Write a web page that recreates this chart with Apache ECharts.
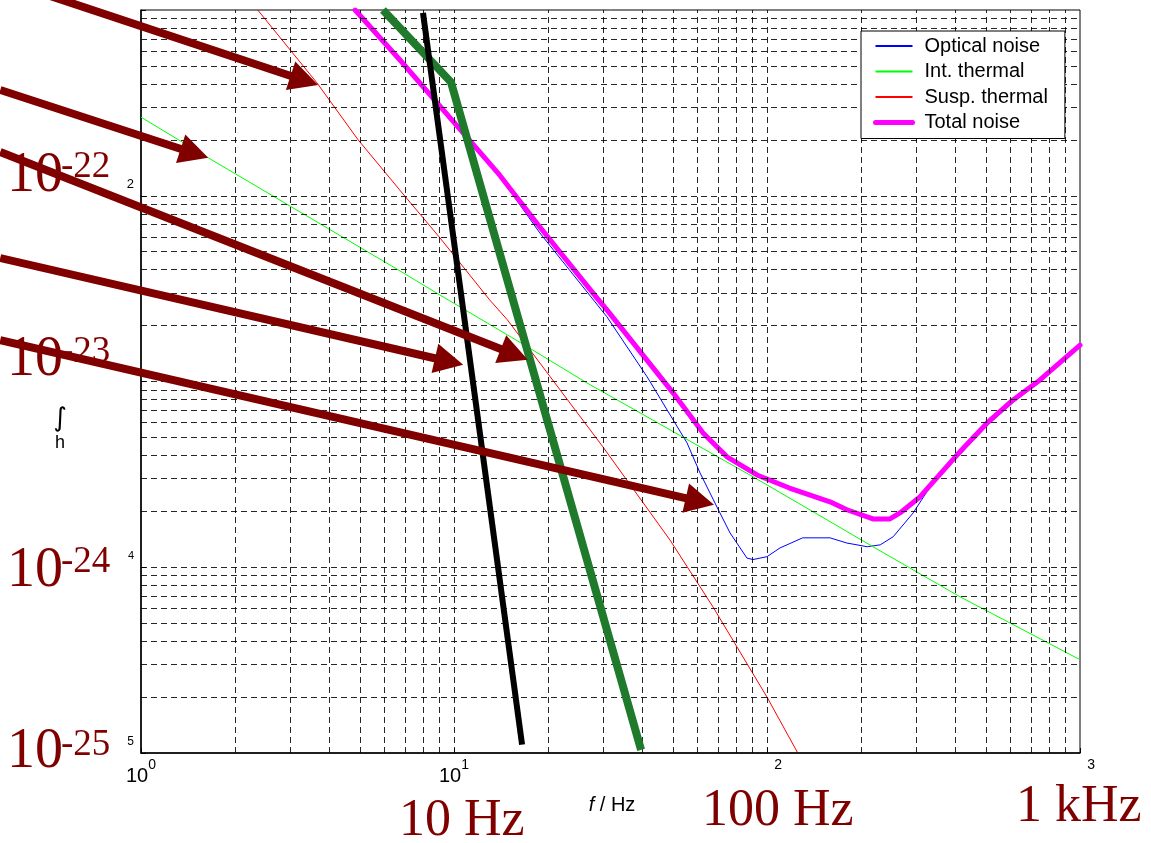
<!DOCTYPE html>
<html>
<head>
<meta charset="utf-8">
<title>Noise budget</title>
<script src="https://cdn.jsdelivr.net/npm/echarts@6/dist/echarts.min.js"></script>
<style>
  html, body { margin: 0; padding: 0; background: #fff; }
  #chart { width: 1151px; height: 843px; }
</style>
</head>
<body>
<div id="chart"></div>
<script>
// values (f in Hz, h in 1/sqrt(Hz))
const optFreq  = [4.83, 6.72, 14.0, 18.8, 30.8, 41.4, 55.5, 61.1, 69.2, 76.2, 86.3, 90.2, 100, 110, 130, 159, 180, 209, 230, 253, 293, 332, 405, 505, 611, 745, 1000]
const optNoise = [1.0e-21, 5.3e-22, 1.27e-22, 6.31e-23, 2.23e-23, 1.06e-23, 4.68e-24, 3.22e-24, 2.11e-24, 1.53e-24, 1.12e-24, 1.10e-24, 1.14e-24, 1.27e-24, 1.44e-24, 1.44e-24, 1.35e-24, 1.29e-24, 1.32e-24, 1.46e-24, 1.96e-24, 2.71e-24, 3.9e-24, 5.8e-24, 7.7e-24, 1.0e-23, 1.53e-23]

const intFreq  = [1, 1.64, 6.72, 9.02, 16.3, 26.6, 39.3, 61.1, 90.2, 155.5, 218, 414, 1000]
const intNoise = [2.65e-22, 1.60e-22, 3.94e-23, 2.92e-23, 1.62e-23, 9.82e-24, 6.78e-24, 4.45e-24, 3.07e-24, 1.80e-24, 1.29e-24, 6.93e-25, 3.18e-25]

const suspFreq  = [2.36, 3.65, 4.94, 6.72, 9.02, 13.0, 14.8, 20.3, 29.9, 49.0, 67.2, 100, 125]
const suspNoise = [1.0e-21, 4.05e-22, 2.0e-22, 1.07e-22, 5.93e-23, 2.75e-23, 2.15e-23, 1.06e-23, 4.45e-24, 1.40e-24, 6.12e-25, 2.0e-25, 1.01e-25]

const totFreq  = [4.83, 6.72, 14.0, 18.8, 28.6, 30.8, 50.1, 62.5, 74.5, 92.9, 118, 159, 180, 218, 247, 266, 308, 405, 505, 611, 745, 1000]
const totNoise = [1.0e-21, 5.38e-22, 1.29e-22, 6.79e-23, 2.82e-23, 2.43e-23, 8.69e-24, 5.28e-24, 3.93e-24, 3.14e-24, 2.67e-24, 2.25e-24, 2.04e-24, 1.82e-24, 1.82e-24, 1.96e-24, 2.39e-24, 4.03e-24, 5.98e-24, 7.96e-24, 1.02e-23, 1.57e-23]

// the two overlaid "walls"
const blackWallFreq  = [7.96, 16.5]
const blackWallNoise = [9.64e-22, 1.11e-25]
const greenWallFreq  = [5.93, 9.78, 39.6]
const greenWallNoise = [1.0e-21, 4.09e-22, 1.04e-25]

// annotation arrows, [f, h] of tail and tip
const arrowFrom = [[0.42, 1.33e-21], [0.355, 3.71e-22], [0.355, 1.72e-22], [0.355, 4.62e-23], [0.355, 1.67e-23]]
const arrowTo   = [[3.68, 3.95e-22], [1.64, 1.60e-22], [17.2, 1.31e-23], [10.7, 1.23e-23], [67.7, 2.17e-24]]

// tick labels (as exported, partly garbled)
const xTickText = { 1: '{b|10}{s|0}', 10: '{b|10}{s|1}', 100: '{h|10}{s|2}', 1000: '{h|10}{s|3}' }
const yTickText = { 21: '', 22: '{r22|2}', 23: '{r23|3}', 24: '{r24|4}', 25: '{r25|5}' }

// overlaid slide labels
const yBigLabels = ['-22', '-23', '-24', '-25']
const fBigLabels = ['10 Hz', '100 Hz', '1 kHz']

const gridMult = [1, 2, 3, 4, 5, 6, 7, 8, 9]
const xDecades = [1, 10, 100]
const yDecades = [1e-25, 1e-24, 1e-23, 1e-22]

// echarts rounds tiny numbers to 0 on a log axis, so h is plotted in units of 1e-25
const hUnit = 1e-25

const sans = '"Liberation Sans", Arial, sans-serif'
const serif = '"Liberation Serif", "Times New Roman", serif'
const maroon = '#800000'

function pt(f, h) {
  return [f, h / hUnit]
}
function pairs(xs, ys) {
  return xs.map((x, i) => pt(x, ys[i]))
}

const gridLines = []
xDecades.forEach(d => gridMult.forEach(m => {
  if (m > 1 || d > 1) gridLines.push({ xAxis: d * m })
}))
yDecades.forEach(d => gridMult.forEach(m => {
  if (m > 1 || d > 1e-25) gridLines.push({ yAxis: Math.round(d / hUnit) * m })
}))

const chart = echarts.init(document.getElementById('chart'))

const thin = (name, color, xs, ys) => ({
  name: name,
  type: 'line',
  data: pairs(xs, ys),
  showSymbol: false,
  symbol: 'none',
  z: 3,
  lineStyle: { color: color, width: 1 },
  itemStyle: { color: color }
})

chart.setOption({
  animation: false,
  backgroundColor: '#fff',
  grid: {
    left: 141, right: 71, top: 10, bottom: 90,
    show: true, borderColor: '#000', borderWidth: 1, backgroundColor: 'transparent'
  },
  legend: {
    data: [
      { name: 'Optical noise' },
      { name: 'Int. thermal' },
      { name: 'Susp. thermal' },
      { name: 'Total noise', lineStyle: { width: 5 } }
    ],
    orient: 'vertical',
    left: 861,
    top: 31,
    z: 50,
    padding: [5, 17, 6, 12],
    itemGap: 5.5,
    itemWidth: 37,
    itemHeight: 14,
    backgroundColor: '#fff',
    borderColor: '#000',
    borderWidth: 1,
    selectedMode: false,
    itemStyle: { opacity: 0 },
    textStyle: { fontFamily: sans, fontSize: 20, color: '#000', padding: [0, 0, 0, 7] }
  },
  xAxis: {
    type: 'log',
    logBase: 10,
    min: 1,
    max: 1000,
    splitNumber: 3,
    axisLine: { lineStyle: { color: '#000', width: 1.5 } },
    axisTick: { inside: true, length: 5, lineStyle: { color: '#000' } },
    splitLine: { show: false },
    axisLabel: {
      margin: 5,
      showMinLabel: true,
      showMaxLabel: true,
      formatter: v => xTickText[Math.round(v)] || '',
      rich: {
        b: { fontFamily: sans, fontSize: 20, color: '#000', padding: [8, 0, 0, 0], verticalAlign: 'bottom' },
        h: { fontFamily: sans, fontSize: 20, color: 'rgba(0,0,0,0)', padding: [8, 0, 0, 0], verticalAlign: 'bottom' },
        s: { fontFamily: sans, fontSize: 14, color: '#000', verticalAlign: 'top' }
      }
    }
  },
  yAxis: {
    type: 'log',
    logBase: 10,
    min: 1,
    max: 10000,
    splitNumber: 4,
    axisLine: { lineStyle: { color: '#000', width: 1.5 } },
    axisTick: { inside: true, length: 5, lineStyle: { color: '#000' } },
    splitLine: { show: false },
    axisLabel: {
      margin: 7,
      showMinLabel: true,
      formatter: v => yTickText[25 - Math.round(Math.log10(v))] || '',
      rich: {
        r22: { fontFamily: sans, fontSize: 13, color: '#000', padding: [0, 0, 22, 0] },
        r23: { fontFamily: sans, fontSize: 8, color: '#000', padding: [0, 0, 22, 0] },
        r24: { fontFamily: sans, fontSize: 11, color: '#000', padding: [0, 0, 22, 0] },
        r25: { fontFamily: sans, fontSize: 12, color: '#000', padding: [0, 0, 22, 0] }
      }
    }
  },
  series: [
    {
      name: 'grid',
      type: 'line',
      data: [],
      z: 1,
      silent: true,
      markLine: {
        silent: true,
        symbol: ['none', 'none'],
        label: { show: false },
        lineStyle: { color: '#000', width: 1, type: [6, 4], opacity: 0.85 },
        emphasis: { disabled: true },
        data: gridLines
      }
    },
    thin('Optical noise', '#0000ff', optFreq, optNoise),
    thin('Int. thermal', '#00ff00', intFreq, intNoise),
    thin('Susp. thermal', '#ff0000', suspFreq, suspNoise),
    {
      name: 'Total noise',
      type: 'line',
      data: pairs(totFreq, totNoise),
      showSymbol: false,
      symbol: 'none',
      z: 4,
      lineStyle: { color: '#ff00ff', width: 5, join: 'round', cap: 'round' },
      itemStyle: { color: '#ff00ff' }
    },
    {
      name: 'green wall',
      type: 'line',
      data: pairs(greenWallFreq, greenWallNoise),
      showSymbol: false,
      symbol: 'none',
      z: 5,
      lineStyle: { color: '#1f7a2c', width: 8 }
    },
    {
      name: 'black wall',
      type: 'line',
      data: pairs(blackWallFreq, blackWallNoise),
      showSymbol: false,
      symbol: 'none',
      z: 6,
      lineStyle: { color: '#000', width: 6 }
    }
  ]
})

// arrows and slide texts
const headLen = 29
const headHalf = 15
const graphics = []

arrowFrom.forEach((from, i) => {
  const a = chart.convertToPixel({ gridIndex: 0 }, pt(from[0], from[1]))
  const b = chart.convertToPixel({ gridIndex: 0 }, pt(arrowTo[i][0], arrowTo[i][1]))
  const dx = b[0] - a[0], dy = b[1] - a[1]
  const len = Math.hypot(dx, dy)
  const ux = dx / len, uy = dy / len
  const bx = b[0] - headLen * ux, by = b[1] - headLen * uy
  graphics.push({
    type: 'line', z: 100, silent: true,
    shape: { x1: a[0], y1: a[1], x2: bx + 2 * ux, y2: by + 2 * uy },
    style: { stroke: maroon, lineWidth: 8 }
  })
  graphics.push({
    type: 'polygon', z: 100, silent: true,
    shape: { points: [[b[0], b[1]], [bx - headHalf * uy, by + headHalf * ux], [bx + headHalf * uy, by - headHalf * ux]] },
    style: { fill: maroon }
  })
})

const bigY = [[176, 167], [360, 352], [571, 562], [752, 745]]
yBigLabels.forEach((t, i) => {
  graphics.push({
    type: 'text', z: 90, silent: true, x: 7, y: bigY[i][0],
    style: { text: '10', fontFamily: serif, fontSize: 56, fill: maroon, align: 'left', verticalAlign: 'middle' }
  })
  graphics.push({
    type: 'text', z: 90, silent: true, x: 61, y: bigY[i][1],
    style: { text: t, fontFamily: serif, fontSize: 37, fill: maroon, align: 'left', verticalAlign: 'middle' }
  })
})

const bigF = [[399, 821], [702, 811], [1016, 807]]
fBigLabels.forEach((t, i) => {
  graphics.push({
    type: 'text', z: 90, silent: true, x: bigF[i][0], y: bigF[i][1],
    style: { text: t, fontFamily: serif, fontSize: 52, fill: maroon, align: 'left', verticalAlign: 'middle' }
  })
})

graphics.push({
  type: 'text', z: 90, silent: true, x: 612, y: 805,
  style: {
    text: '{i|f} / Hz', fontFamily: sans, fontSize: 20, fill: '#000', align: 'center', verticalAlign: 'middle',
    rich: { i: { fontFamily: sans, fontSize: 20, fontStyle: 'italic', fill: '#000' } }
  }
})
graphics.push({
  type: 'text', z: 90, silent: true, x: 60, y: 443,
  style: { text: 'h', fontFamily: sans, fontSize: 18, fill: '#000', align: 'center', verticalAlign: 'middle' }
})
graphics.push({
  type: 'text', z: 90, silent: true, x: 60, y: 419,
  style: { text: '∫', fontFamily: '"DejaVu Sans"', fontSize: 26, fill: '#000', align: 'center', verticalAlign: 'middle' }
})

chart.setOption({ graphic: graphics })
</script>
</body>
</html>
